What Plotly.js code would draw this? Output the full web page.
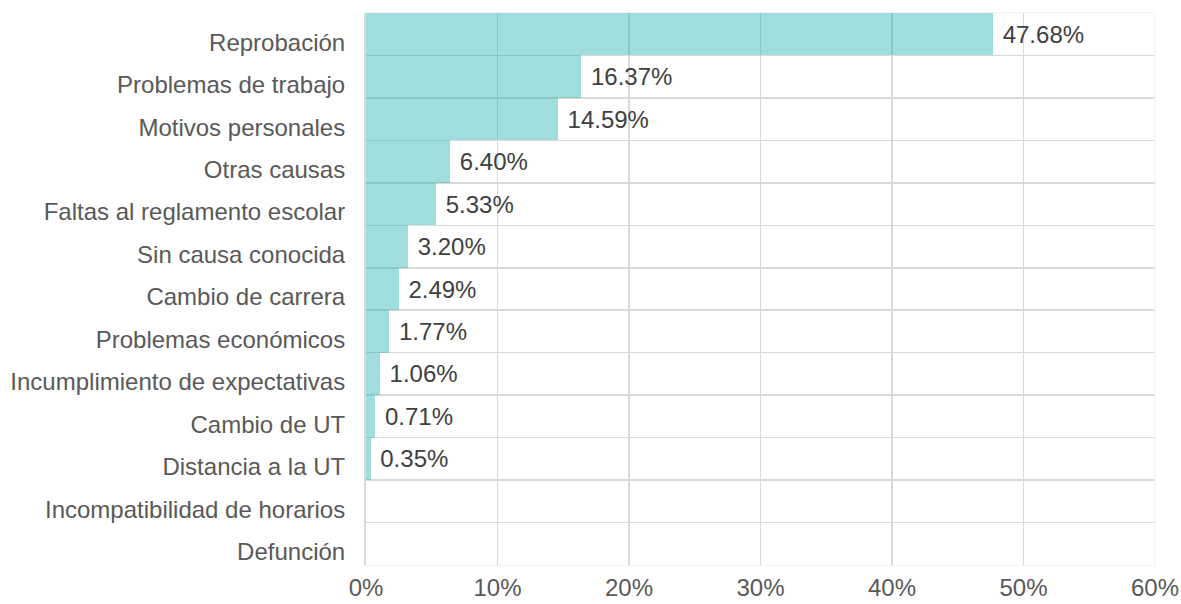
<!DOCTYPE html>
<html><head><meta charset="utf-8">
<script src="https://cdn.plot.ly/plotly-3.0.1.min.js"></script>
<style>html,body{margin:0;padding:0;background:#fff}#chart{width:1181px;height:604px}</style>
</head><body><div id="chart"></div>
<script>
const categories = ["Reprobación","Problemas de trabajo","Motivos personales","Otras causas","Faltas al reglamento escolar","Sin causa conocida","Cambio de carrera","Problemas económicos","Incumplimiento de expectativas","Cambio de UT","Distancia a la UT","Incompatibilidad de horarios","Defunción"];
const values = [47.68,16.37,14.59,6.40,5.33,3.20,2.49,1.77,1.06,0.71,0.35,0,0];
const labels = values.map(v => v > 0 ? " " + v.toFixed(2) + "%" : "");

Plotly.newPlot("chart", [{
  type: "bar", orientation: "h",
  y: categories, x: values, text: labels,
  textposition: "outside", cliponaxis: false,
  textfont: {family: "Liberation Sans, Arial, sans-serif", size: 24, color: "#404040"},
  marker: {color: "rgba(29,176,176,0.42)", line: {width: 0}},
  hoverinfo: "none"
}], {
  width: 1181, height: 604,
  margin: {l: 366, r: 26, t: 13, b: 39},
  paper_bgcolor: "#fff", plot_bgcolor: "#fff",
  bargap: 0, showlegend: false,
  font: {family: "Liberation Sans, Arial, sans-serif", size: 24, color: "#595959"},
  xaxis: {range: [0, 60], dtick: 10, ticksuffix: "%", showgrid: true, gridcolor: "#D9D9D9", gridwidth: 1.5,
          zeroline: false, showline: true, mirror: true, linecolor: "#F2F2F2", linewidth: 1,
          ticks: "", ticklabelstandoff: 1, tickfont: {size: 24, color: "#595959"}, fixedrange: true},
  yaxis: {type: "category", autorange: "reversed", tickson: "boundaries", showgrid: true, gridcolor: "#D9D9D9", gridwidth: 1.5,
          showline: true, linecolor: "#D9D9D9", linewidth: 2, ticks: "", ticklabelstandoff: 14, ticklabelshift: -8,
          tickfont: {size: 24, color: "#595959"}, fixedrange: true},
  shapes: [{type: "line", xref: "paper", yref: "paper", x0: 1, x1: 1, y0: 0, y1: 1, line: {color: "#F2F2F2", width: 1}}]
}, {displayModeBar: false, staticPlot: true});
</script></body></html>
